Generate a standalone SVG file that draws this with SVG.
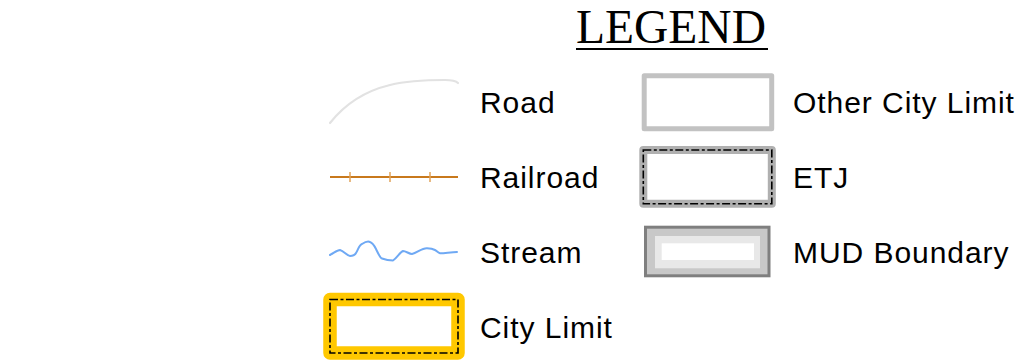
<svg xmlns="http://www.w3.org/2000/svg" width="1036" height="361" viewBox="0 0 1036 361">
<style>
.lbl{font-family:"Liberation Sans",Arial,sans-serif;font-size:30px;letter-spacing:0.95px;fill:#000}
.ttl{font-family:"Liberation Serif","Times New Roman",serif;font-size:47.5px;fill:#000}
.dash{fill:none;stroke:#000;stroke-width:1.6;stroke-dasharray:8 2.5 3 2.5}
</style>
<rect width="1036" height="361" fill="#fff"/>
<g id="title">
<text class="ttl" x="576" y="43">LEGEND</text>
<line x1="576" y1="49" x2="768" y2="49" stroke="#000" stroke-width="2.2"/>
</g>
<g id="road">
<path d="M330,123 C345,104 365,91 390,85 C410,80 430,80 445,80 C452,80 456,81 458,83" fill="none" stroke="#e2e2e2" stroke-width="2.2" stroke-linecap="round"/>
<text class="lbl" x="480" y="113">Road</text>
</g>
<g id="railroad">
<line x1="330" y1="177" x2="458" y2="177" stroke="#c8791c" stroke-width="2.2"/>
<g stroke="#e0a35a" stroke-width="1.5">
<line x1="350" y1="172" x2="350" y2="182"/>
<line x1="390" y1="172" x2="390" y2="182"/>
<line x1="430" y1="172" x2="430" y2="182"/>
</g>
<text class="lbl" x="480" y="188">Railroad</text>
</g>
<g id="stream">
<path d="M330,255 C334,253 337,250 340,250 C344,251 347,256 350,256 C353,256 355,255 356,253 C358,250 359,245 362,244 C365,242 368,241 370,242 C373,243 375,247 376,249 C378,253 380,258 382,258.5 C386,260 390,260.5 393,260.5 C397,258 400,252 403,251 C406,251 409,254 412,254 C417,253 422,248 427,248.3 C431,248.5 434,249.5 435,250 C437,251 438,253 440,253.3 C446,253 452,252 457,252" fill="none" stroke="#6fa9f4" stroke-width="2" stroke-linejoin="round" stroke-linecap="round"/>
<text class="lbl" x="480" y="263">Stream</text>
</g>
<g id="city-limit">
<rect x="330" y="299.5" width="128" height="53.5" fill="#fff" stroke="#ffc800" stroke-width="13.5" stroke-linejoin="round"/>
<rect class="dash" x="330" y="299.5" width="128" height="53.5"/>
<text class="lbl" x="480" y="338">City Limit</text>
</g>
<g id="other-city-limit">
<rect x="644.2" y="75.8" width="127.5" height="53" fill="#fff" stroke="#c2c2c2" stroke-width="5" stroke-linejoin="round"/>
<text class="lbl" x="793" y="113">Other City Limit</text>
</g>
<g id="etj">
<rect x="643.3" y="150" width="128.5" height="53.8" fill="#fff" stroke="#b0b0b0" stroke-width="8" stroke-linejoin="round"/>
<rect class="dash" x="643.3" y="150" width="128.5" height="53.8" stroke-width="1.3"/>
<text class="lbl" x="793" y="188">ETJ</text>
</g>
<g id="mud-boundary">
<rect x="645.5" y="227.2" width="123.5" height="48.6" fill="#c8c8c8" stroke="#7f7f7f" stroke-width="3"/>
<rect x="655" y="236" width="105" height="32.3" fill="#e8e8e8"/>
<rect x="661.7" y="243.3" width="92.3" height="16.7" fill="#fff"/>
<text class="lbl" x="793" y="263">MUD Boundary</text>
</g>
</svg>
